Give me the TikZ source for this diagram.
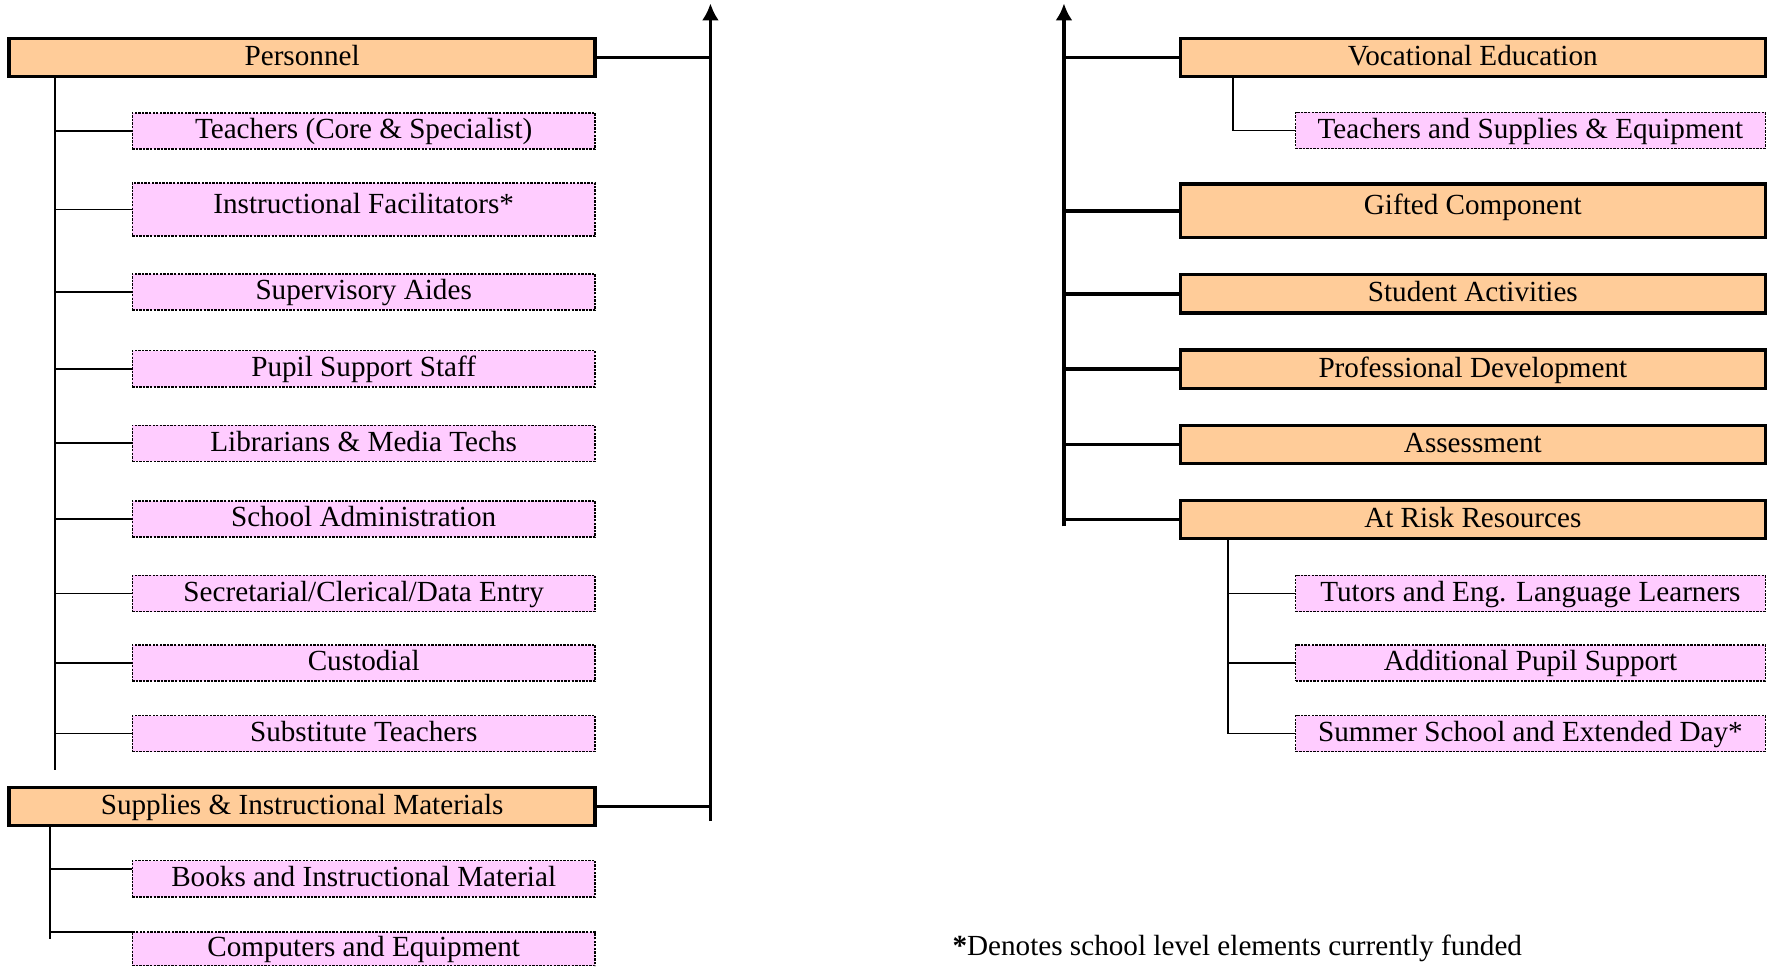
\documentclass[tikz,border=0pt]{standalone}
\usepackage{fontspec}
\setmainfont{Liberation Serif}
\usetikzlibrary{calc,arrows.meta}
\definecolor{catorange}{HTML}{FFCC99}
\definecolor{subpink}{HTML}{FFCCFF}
\tikzset{
  catbox/.style={draw, line width=1.7pt, fill=catorange, minimum height=0.68cm, inner sep=0pt, text height=0.9em, text depth=0.12em},
  subbox/.style={draw, line width=0.7pt, dash pattern=on 1.2pt off 0.6pt, fill=subpink, minimum height=0.64cm, inner sep=0pt, text height=0.9em, text depth=0.12em},
  mainline/.style={line width=1.9pt},
  subline/.style={line width=0.9pt}
}
\begin{document}
\begin{tikzpicture}[x=0.02cm, y=-0.02cm, >={Latex[length=3mm,width=3mm]}, font=\fontsize{14.7}{17}\selectfont]
\useasboundingbox (0,0) rectangle (1568,856);


\node[catbox, minimum width=10.38cm] (personnel) at (267.5,51) {Personnel};
\node[subbox, minimum width=8.2cm] (teachers) at (322,116) {Teachers (Core \& Specialist)};
\node[subbox, minimum width=8.2cm, minimum height=0.94cm, text depth=0.51em] (facilitators) at (322,185.5) {Instructional Facilitators*};
\node[subbox, minimum width=8.2cm] (aides) at (322,258.5) {Supervisory Aides};
\node[subbox, minimum width=8.2cm] (pupilstaff) at (322,326.5) {Pupil Support Staff};
\node[subbox, minimum width=8.2cm] (librarians) at (322,392.5) {Librarians \& Media Techs};
\node[subbox, minimum width=8.2cm] (schooladmin) at (322,459.5) {School Administration};
\node[subbox, minimum width=8.2cm] (clerical) at (322,525.5) {Secretarial/Clerical/Data Entry};
\node[subbox, minimum width=8.2cm] (custodial) at (322,587) {Custodial};
\node[subbox, minimum width=8.2cm] (substitutes) at (322,649.5) {Substitute Teachers};

\coordinate (ltrunk) at ($(personnel.south west)+(42,0)$);
\draw[subline] (ltrunk) -- ($(ltrunk)+(0,612)$);
\draw[subline] (teachers.west -| ltrunk) -- (teachers.west);
\draw[subline] (facilitators.west -| ltrunk) -- (facilitators.west);
\draw[subline] (aides.west -| ltrunk) -- (aides.west);
\draw[subline] (pupilstaff.west -| ltrunk) -- (pupilstaff.west);
\draw[subline] (librarians.west -| ltrunk) -- (librarians.west);
\draw[subline] (schooladmin.west -| ltrunk) -- (schooladmin.west);
\draw[subline] (clerical.west -| ltrunk) -- (clerical.west);
\draw[subline] (custodial.west -| ltrunk) -- (custodial.west);
\draw[subline] (substitutes.west -| ltrunk) -- (substitutes.west);


\node[catbox, minimum width=10.38cm] (supplies) at (267.5,714) {Supplies \& Instructional Materials};
\node[subbox, minimum width=8.2cm] (books) at (322,778) {Books and Instructional Material};
\node[subbox, minimum width=8.2cm, minimum height=0.6cm] (computers) at (322,840) {Computers and Equipment};

\coordinate (strunk) at ($(supplies.south west)+(38,0)$);
\coordinate (b1) at ($(books.north west)+(0,8)$);
\coordinate (b2) at ($(computers.north west)+(0,1)$);
\draw[subline] (strunk) -- ($(strunk)+(0,99)$);
\draw[subline] (b1 -| strunk) -- (b1);
\draw[subline] (b2 -| strunk) -- (b2);


\coordinate (lup) at (629,3);
\coordinate (ldown) at (629,727);
\draw[mainline, ->] (ldown) -- (lup);
\draw[mainline] (personnel.east) -- (personnel.east -| lup);
\draw[mainline] (supplies.east) -- (supplies.east -| lup);


\node[catbox, minimum width=10.36cm] (vocational) at (1304,51) {Vocational Education};
\node[subbox, minimum width=8.32cm] (vocsub) at (1355,115.5) {Teachers and Supplies \& Equipment};
\node[catbox, minimum width=10.36cm, minimum height=0.94cm, text depth=0.51em] (gifted) at (1304,186.5) {Gifted Component};
\node[catbox, minimum width=10.36cm] (activities) at (1304,260) {Student Activities};
\node[catbox, minimum width=10.36cm] (profdev) at (1304,327) {Professional Development};
\node[catbox, minimum width=10.36cm] (assessment) at (1304,393.5) {Assessment};
\node[catbox, minimum width=10.36cm] (atrisk) at (1304,460) {At Risk Resources};
\node[subbox, minimum width=8.32cm] (tutors) at (1355,525.5) {Tutors and Eng. Language Learners};
\node[subbox, minimum width=8.32cm] (pupilsup) at (1355,587) {Additional Pupil Support};
\node[subbox, minimum width=8.32cm] (summer) at (1355,649.5) {Summer School and Extended Day*};

\coordinate (rup) at (942,3);
\coordinate (rdown) at (942,466);
\draw[mainline, ->] (rdown) -- (rup);
\draw[mainline] (vocational.west -| rup) -- (vocational.west);
\draw[mainline] (gifted.west -| rup) -- (gifted.west);
\draw[mainline] (activities.west -| rup) -- (activities.west);
\draw[mainline] (profdev.west -| rup) -- (profdev.west);
\draw[mainline] (assessment.west -| rup) -- (assessment.west);
\draw[mainline] (atrisk.west -| rup) -- (atrisk.west);

\draw[subline] ($(vocational.south west)+(48,0)$) |- (vocsub.west);

\coordinate (rtrunk) at ($(atrisk.south west)+(44,0)$);
\draw[subline] (rtrunk) |- (summer.west);
\draw[subline] (tutors.west -| rtrunk) -- (tutors.west);
\draw[subline] (pupilsup.west -| rtrunk) -- (pupilsup.west);


\node[anchor=west, inner sep=0pt] (note) at (843,840) {\textbf{*}Denotes school level elements currently funded};

\end{tikzpicture}
\end{document}
